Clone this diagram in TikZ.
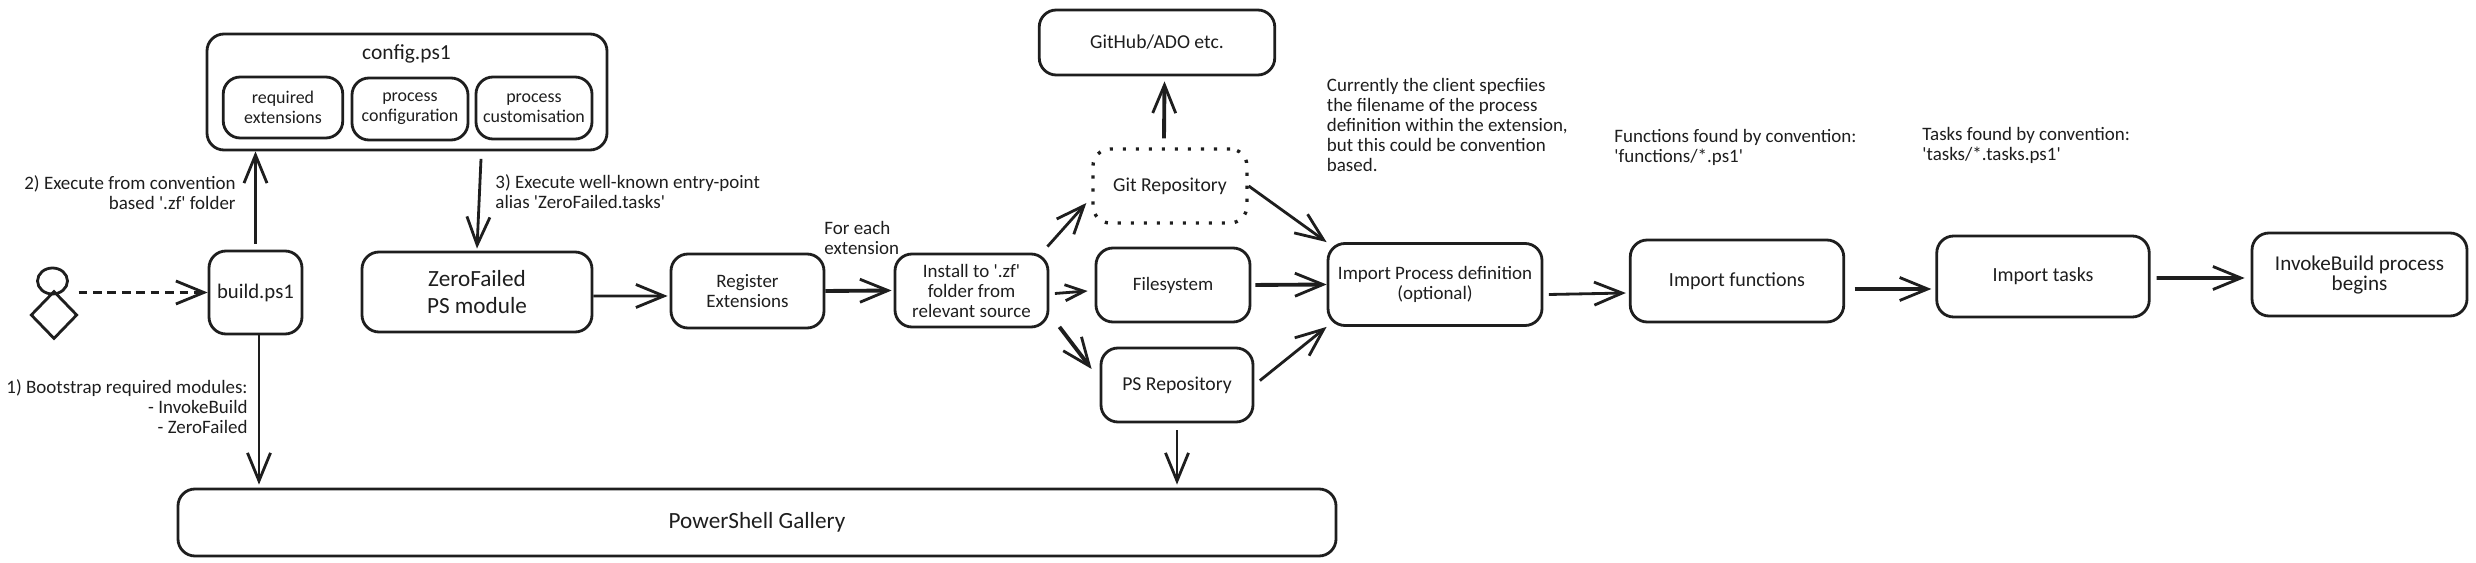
\documentclass[tikz,border=0pt]{standalone}
\usepackage{fontspec}
\newfontfamily\sketchfont{Carlito}
\usetikzlibrary{arrows.meta,shapes.geometric}
\definecolor{ink}{HTML}{1E1E1E}
\newcommand{\sketchsize}[1]{\sketchfont\fontsize{#1}{5.69}\selectfont}
\begin{document}
\begin{tikzpicture}[font=\sketchsize{5.4}, color=ink, line width=0.8pt,
    >={Straight Barb[length=0.28cm,width=0.23cm,line width=0.8pt]},
    box/.style={draw, rounded corners=0.17cm, align=center, inner sep=0pt},
    label/.style={align=#1, inner sep=0pt},
    heavy/.style={line width=1.1pt},
    smalltip/.style={>={Straight Barb[length=0.19cm,width=0.16cm,line width=0.8pt]}}]
  \useasboundingbox (0,0) rectangle (24.76,5.63);
  % Actor
  \node[draw, ellipse, minimum width=0.30cm, minimum height=0.26cm, inner sep=0pt] (head) at (0.525,2.82) {};
  \node[draw, diamond, minimum width=0.465cm, minimum height=0.48cm, inner sep=0pt] (body) at (0.54,2.48) {};
  % Config file and its parts
  \node[box, minimum width=4.00cm, minimum height=1.16cm] (config) at (4.07,4.71) {};
  \node[label=center, font=\sketchsize{6.1}] (configtitle) at (4.065,5.09) {config.ps1};
  \node[box, font=\sketchsize{5.1}, minimum width=1.195cm, minimum height=0.61cm] (reqext) at (2.83,4.555) {required\\extensions};
  \node[box, font=\sketchsize{5.1}, minimum width=1.16cm, minimum height=0.62cm] (procconf) at (4.10,4.54) {process\\configuration};
  \node[box, font=\sketchsize{5.1}, minimum width=1.16cm, minimum height=0.62cm] (proccust) at (5.34,4.55) {process\\customisation};
  % Main row
  \node[box, font=\sketchsize{5.9}, minimum width=0.93cm, minimum height=0.83cm] (build) at (2.555,2.705) {build.ps1};
  \node[box, minimum width=2.30cm, minimum height=0.80cm, font=\sketchfont\fontsize{6.6}{7.7}\selectfont] (zf) at (4.77,2.71) {ZeroFailed\\PS module};
  \node[box, minimum width=1.53cm, minimum height=0.74cm] (register) at (7.475,2.72) {Register\\Extensions};
  \node[box, minimum width=1.53cm, minimum height=0.73cm] (install) at (9.715,2.725) {Install to '.zf'\\folder from\\relevant source};
  \node[box, minimum width=2.14cm, minimum height=0.82cm] (importproc) at (14.35,2.785) {Import Process definition\\(optional)};
  \node[box, font=\sketchsize{5.7}, minimum width=2.135cm, minimum height=0.82cm] (importfn) at (17.37,2.82) {Import functions};
  \node[box, font=\sketchsize{5.7}, minimum width=2.125cm, minimum height=0.81cm] (importtask) at (20.43,2.865) {Import tasks};
  \node[box, font=\sketchsize{6}, minimum width=2.15cm, minimum height=0.83cm] (invoke) at (23.595,2.885) {InvokeBuild process\\begins};
  % Sources
  \node[box, font=\sketchsize{5.6}, minimum width=2.355cm, minimum height=0.65cm] (github) at (11.57,5.205) {GitHub/ADO etc.};
  \node[box, font=\sketchsize{5.6}, dash pattern=on 0.9pt off 2.8pt, line width=0.95pt, minimum width=1.54cm, minimum height=0.74cm] (git) at (11.70,3.77) {Git Repository};
  \node[box, minimum width=1.54cm, minimum height=0.74cm] (fs) at (11.73,2.78) {Filesystem};
  \node[box, font=\sketchsize{5.6}, minimum width=1.52cm, minimum height=0.74cm] (psrepo) at (11.77,1.78) {PS Repository};
  \node[box, font=\sketchsize{6.6}, minimum width=11.58cm, minimum height=0.67cm] (gallery) at (7.57,0.405) {PowerShell Gallery};
  % Free labels
  \node[label=right, anchor=east] (lab2) at (2.37,3.70) {2) Execute from convention\\based '.zf' folder};
  \node[label=left, anchor=west] (lab3) at (4.94,3.71) {3) Execute well-known entry-point\\alias 'ZeroFailed.tasks'};
  \node[label=right, anchor=east] (lab1) at (2.49,1.565) {1) Bootstrap required modules:\\- InvokeBuild\\- ZeroFailed};
  \node[label=left, anchor=west] (labeach) at (8.23,3.25) {For each\\extension};
  \node[label=left, anchor=west] (labproc) at (13.255,4.38) {Currently the client specfiies\\the filename of the process\\definition within the extension,\\but this could be convention\\based.};
  \node[label=left, anchor=west] (labfn) at (16.13,4.16) {Functions found by convention:\\'functions/*.ps1'};
  \node[label=left, anchor=west] (labtask) at (19.21,4.18) {Tasks found by convention:\\'tasks/*.tasks.ps1'};
  % Arrows
  \draw[dashed, dash pattern=on 2.5pt off 1.6pt, line width=0.9pt, ->] (body.east |- build.west) -- (build.west);
  \draw[->, shorten <=0.06cm] (build.north) -- (build.north |- config.south);
  \draw[->] ([xshift=0.035cm]build.south) -- ([xshift=0.035cm,yshift=0.03cm]build.south |- gallery.north);
  \draw[->] ([shift={(0.04,-0.075)}]zf.north |- config.south) -- ([yshift=0.02cm]zf.north);
  \draw[->] ([yshift=-0.04cm]zf.east) -- ([shift={(-0.02,-0.05)}]register.west);
  \draw[->, heavy] (register.east) -- ([xshift=-0.02cm]install.west);
  \draw[->] ([shift={(-0.02,0.06)}]install.north east) -- ([shift={(-0.05,-0.17)}]git.west);
  \draw[->, smalltip] ([shift={(0.055,-0.03)}]install.east) -- ([shift={(-0.07,-0.06)}]fs.west);
  \draw[->, heavy] ([shift={(0.10,0.015)}]install.south east) -- ([shift={(-0.08,0.16)}]psrepo.west);
  \draw[->, heavy] ([shift={(-0.06,0.09)}]git.north) -- ([shift={(0.075,-0.05)}]github.south);
  \draw[->] ([yshift=-0.07cm]psrepo.south) -- ([yshift=0.03cm]psrepo.south |- gallery.north);
  \draw[->] (git.east) -- (importproc.north west);
  \draw[->, heavy, shorten <=0.04cm] (fs.east) -- (importproc.west);
  \draw[->, shorten <=0.07cm] (psrepo.east) -- (importproc.south west);
  \draw[->] ([shift={(0.055,-0.10)}]importproc.east) -- ([shift={(-0.03,-0.12)}]importfn.west);
  \draw[->, heavy] ([shift={(0.095,-0.08)}]importfn.east) -- ([shift={(-0.04,-0.125)}]importtask.west);
  \draw[->, heavy] ([shift={(0.06,-0.015)}]importtask.east) -- ([shift={(-0.06,-0.035)}]invoke.west);
\end{tikzpicture}
\end{document}
